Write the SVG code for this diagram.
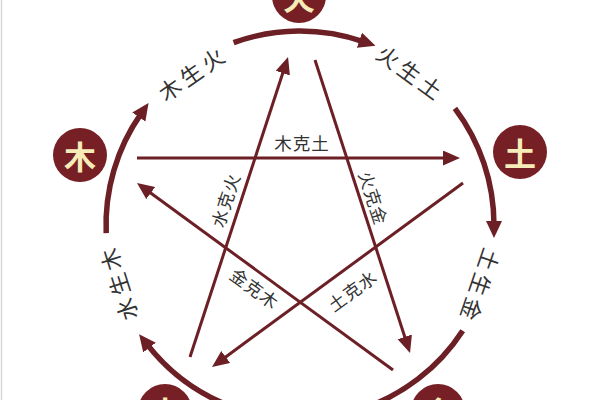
<svg xmlns="http://www.w3.org/2000/svg" width="600" height="400" viewBox="0 0 600 400">
<defs>
<style>
.ring{fill:none;stroke:#6c1f25;stroke-width:5.5}
.star{fill:none;stroke:#6c1f25;stroke-width:3}
.el circle{fill:#761f25}
.el text{font-family:"Noto Sans CJK SC","Noto Sans CJK JP",sans-serif;font-size:32px;font-weight:bold;fill:#f6ecb8;text-anchor:middle;dominant-baseline:central}
.lbl{font-family:"Noto Sans CJK SC","Noto Sans CJK JP",sans-serif;fill:#333;text-anchor:middle;dominant-baseline:central}
.rl{font-size:22px;letter-spacing:4px}
.sl{font-size:17.5px;letter-spacing:1px}
</style>
<marker id="ra" markerUnits="userSpaceOnUse" markerWidth="20" markerHeight="18" refX="4" refY="8" orient="auto"><path d="M0,0 L17,8 L0,16 z" fill="#6c1f25"/></marker>
<marker id="sa" markerUnits="userSpaceOnUse" markerWidth="20" markerHeight="18" refX="3" refY="7.5" orient="auto"><path d="M0,0 L17,7.5 L0,15 z" fill="#6c1f25"/></marker>
</defs>
<rect width="600" height="400" fill="#fff"/>
<line x1="1.5" y1="0" x2="1.5" y2="400" stroke="#d8d8d8" stroke-width="1.5"/>
<g id="connectors">
<path class="ring" d="M233.6,42.7 A194,194 0 0 1 363.2,41.6" marker-end="url(#ra)"/>
<path class="ring" d="M454.9,108.3 A194,194 0 0 1 494,225" marker-end="url(#ra)"/>
<path class="ring" d="M462.7,330.7 A194,194 0 0 1 360,409.5"/>
<path class="ring" d="M240,409.5 A194,194 0 0 1 147.1,344.4" marker-end="url(#ra)"/>
<path class="ring" d="M106.2,233.1 A194,194 0 0 1 141.1,113.7" marker-end="url(#ra)"/>
<line class="star" x1="137" y1="158" x2="446" y2="158" marker-end="url(#sa)"/>
<line class="star" x1="190" y1="357" x2="283.7" y2="70.3" marker-end="url(#sa)"/>
<line class="star" x1="315" y1="60" x2="405.7" y2="339.7" marker-end="url(#sa)"/>
<line class="star" x1="393" y1="370" x2="148.3" y2="191.3" marker-end="url(#sa)"/>
<line class="star" x1="463" y1="183" x2="223.3" y2="358.7" marker-end="url(#sa)"/>
<text class="lbl rl" transform="translate(192,72) rotate(-35)">木生火</text>
<text class="lbl rl" transform="translate(412,72) rotate(36)">火生土</text>
<text class="lbl rl" transform="translate(481,287) rotate(109)">土生金</text>
<text class="lbl rl" transform="translate(117,283) rotate(-107.6)">水生木</text>
<text class="lbl sl" transform="translate(302,142)">木克土</text>
<text class="lbl sl" transform="translate(225,200) rotate(-72)">水克火</text>
<text class="lbl sl" transform="translate(374,198) rotate(72)">火克金</text>
<text class="lbl sl" transform="translate(255,288) rotate(36)">金克木</text>
<text class="lbl sl" transform="translate(352,290) rotate(-36)">土克水</text>
</g>
<g id="fire" class="el"><circle cx="299" cy="-4" r="27"/><text x="299" y="-4">火</text></g>
<g id="earth" class="el"><circle cx="520" cy="152" r="27"/><text x="520" y="152">土</text></g>
<g id="metal" class="el"><circle cx="438" cy="411" r="27"/><text x="438" y="411">金</text></g>
<g id="water" class="el"><circle cx="165" cy="411" r="27"/><text x="165" y="411">水</text></g>
<g id="wood" class="el"><circle cx="80" cy="155" r="27"/><text x="80" y="155">木</text></g>
</svg>
